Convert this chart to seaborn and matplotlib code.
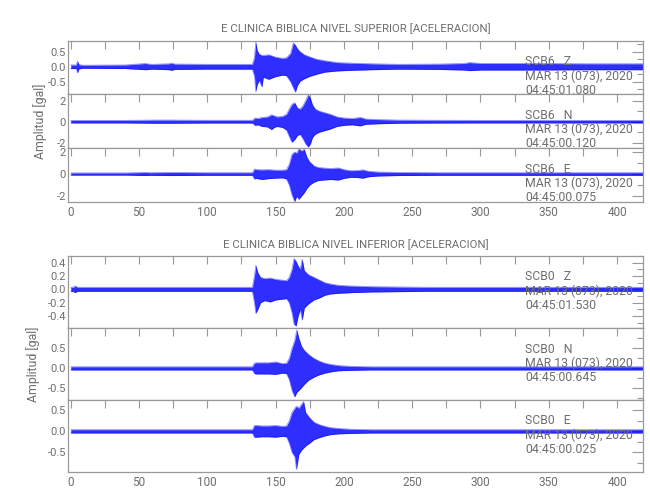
import numpy as np
import pandas as pd
import matplotlib
matplotlib.use("Agg")
import matplotlib.pyplot as plt
import matplotlib.transforms as mtransforms
from matplotlib.ticker import MultipleLocator, FixedLocator, FormatStrFormatter
import seaborn as sns

# ---------------- data (envelopes) ----------------
title_top = "E CLINICA BIBLICA NIVEL SUPERIOR [ACELERACION]"
title_bot = "E CLINICA BIBLICA NIVEL INFERIOR [ACELERACION]"
ylabel = "Amplitud [gal]"
date_txt = "MAR 13 (073), 2020"

# SCB6 Z
t_s6z = [0, 4, 5, 6, 9, 40, 55, 57, 60, 72, 74, 76, 100, 133, 134.5, 135.5, 136.5, 138, 140, 141, 145, 150,
         155, 158, 161, 163, 164.5, 166, 168, 171, 175, 180, 186, 195, 205, 220, 240, 270, 288, 292, 300,
         340, 380, 420]
hi_s6z = [0.06, 0.06, 0.18, 0.07, 0.05, 0.06, 0.11, 0.09, 0.08, 0.10, 0.12, 0.09, 0.08, 0.08, 0.30, 0.83,
          0.55, 0.42, 0.38, 0.38, 0.40, 0.32, 0.28, 0.30, 0.45, 0.80, 0.72, 0.60, 0.50, 0.40, 0.33, 0.25,
          0.20, 0.14, 0.12, 0.10, 0.08, 0.09, 0.11, 0.14, 0.11, 0.11, 0.10, 0.10]
lo_s6z = [-0.06, -0.06, -0.20, -0.07, -0.05, -0.06, -0.10, -0.09, -0.08, -0.10, -0.12, -0.09, -0.08, -0.08,
          -0.30, -0.83, -0.60, -0.45, -0.67, -0.35, -0.42, -0.33, -0.28, -0.30, -0.50, -0.70, -0.84, -0.62,
          -0.48, -0.40, -0.32, -0.25, -0.18, -0.14, -0.12, -0.10, -0.08, -0.09, -0.11, -0.13, -0.11, -0.11,
          -0.10, -0.10]

# SCB6 N
t_s6n = [0, 40, 60, 75, 100, 133, 135, 137, 140, 144, 147, 149, 151, 155, 158, 160, 162, 164, 166, 168,
         170, 172, 174, 175.5, 177, 179, 182, 186, 190, 195, 200, 206, 212, 216, 225, 240, 270, 300, 350, 420]
hi_s6n = [0.12, 0.12, 0.15, 0.15, 0.13, 0.13, 0.35, 0.30, 0.40, 0.45, 0.65, 0.55, 0.45, 0.50, 0.70, 1.2,
          1.65, 1.8, 1.3, 1.2, 1.5, 2.0, 2.55, 2.2, 1.6, 1.2, 1.0, 0.85, 0.70, 0.45, 0.35, 0.30, 0.40, 0.25,
          0.20, 0.15, 0.13, 0.12, 0.12, 0.12]
lo_s6n = [-0.12, -0.12, -0.15, -0.15, -0.13, -0.13, -0.35, -0.30, -0.45, -0.50, -0.75, -0.55, -0.45, -0.55,
          -0.80, -1.4, -1.95, -1.7, -1.3, -1.2, -1.6, -2.1, -2.4, -2.1, -1.5, -1.2, -1.0, -0.85, -0.70, -0.45,
          -0.35, -0.30, -0.40, -0.25, -0.20, -0.15, -0.13, -0.12, -0.12, -0.12]

# SCB6 E
t_s6e = [0, 40, 55, 58, 75, 100, 133, 134.5, 136, 140, 145, 150, 155, 158, 160, 162, 164, 165.5, 167, 169,
         171, 173, 175, 178, 181, 185, 190, 196, 200, 205, 210, 214, 218, 225, 240, 270, 300, 350, 420]
hi_s6e = [0.10, 0.10, 0.14, 0.12, 0.14, 0.12, 0.12, 0.45, 0.40, 0.38, 0.40, 0.35, 0.35, 0.40, 0.9, 1.8, 2.0,
          1.9, 2.3, 2.1, 2.25, 1.5, 1.1, 0.75, 0.6, 0.55, 0.50, 0.55, 0.40, 0.30, 0.32, 0.38, 0.25, 0.18,
          0.14, 0.12, 0.12, 0.12, 0.12]
lo_s6e = [-0.10, -0.10, -0.14, -0.12, -0.14, -0.12, -0.12, -0.45, -0.40, -0.50, -0.42, -0.38, -0.35, -0.45,
          -1.0, -1.9, -2.5, -2.0, -2.3, -2.0, -1.7, -1.3, -1.0, -0.75, -0.6, -0.55, -0.50, -0.55, -0.40, -0.30,
          -0.32, -0.38, -0.25, -0.18, -0.14, -0.12, -0.12, -0.12, -0.12]

# SCB0 Z
t_s0z = [0, 2, 3, 5, 40, 80, 100, 133, 134.5, 135.5, 137, 139, 142, 146, 150, 154, 158, 160, 162, 163.5,
         165, 166.5, 168, 169.5, 171, 174, 178, 182, 186, 190, 196, 205, 220, 260, 300, 350, 420]
hi_s0z = [0.03, 0.03, 0.05, 0.03, 0.03, 0.03, 0.03, 0.03, 0.20, 0.36, 0.25, 0.18, 0.16, 0.17, 0.15, 0.14,
          0.13, 0.18, 0.30, 0.46, 0.42, 0.35, 0.30, 0.45, 0.28, 0.22, 0.18, 0.14, 0.10, 0.08, 0.06, 0.05,
          0.04, 0.03, 0.03, 0.03, 0.03]
lo_s0z = [-0.03, -0.03, -0.05, -0.03, -0.03, -0.03, -0.03, -0.03, -0.20, -0.36, -0.30, -0.20, -0.17, -0.19,
          -0.16, -0.15, -0.14, -0.20, -0.35, -0.52, -0.55, -0.40, -0.30, -0.46, -0.28, -0.22, -0.16, -0.13,
          -0.09, -0.07, -0.06, -0.05, -0.04, -0.03, -0.03, -0.03, -0.03]

# SCB0 N
t_s0n = [0, 40, 100, 133, 134.5, 136, 140, 145, 150, 155, 158, 160, 162, 164, 165.5, 167, 169, 171, 174,
         178, 182, 186, 190, 196, 205, 220, 260, 300, 420]
hi_s0n = [0.04, 0.04, 0.04, 0.04, 0.13, 0.14, 0.14, 0.14, 0.16, 0.12, 0.13, 0.25, 0.50, 0.70, 0.96, 0.75,
          0.55, 0.45, 0.35, 0.25, 0.18, 0.13, 0.10, 0.07, 0.05, 0.04, 0.04, 0.04, 0.04]
lo_s0n = [-0.04, -0.04, -0.04, -0.04, -0.13, -0.14, -0.14, -0.14, -0.15, -0.12, -0.13, -0.28, -0.55, -0.71,
          -0.60, -0.55, -0.48, -0.40, -0.30, -0.22, -0.16, -0.12, -0.09, -0.06, -0.05, -0.04, -0.04, -0.04,
          -0.04]

# SCB0 E
t_s0e = [0, 40, 100, 133, 134.5, 136, 140, 145, 150, 155, 158, 160, 162, 164, 165.3, 167, 169, 170.5, 172,
         175, 178, 182, 186, 190, 196, 205, 220, 260, 300, 420]
hi_s0e = [0.04, 0.04, 0.04, 0.04, 0.14, 0.14, 0.13, 0.13, 0.14, 0.12, 0.13, 0.25, 0.45, 0.55, 0.60, 0.55,
          0.65, 0.71, 0.45, 0.32, 0.22, 0.16, 0.12, 0.09, 0.07, 0.05, 0.04, 0.04, 0.04, 0.04]
lo_s0e = [-0.04, -0.04, -0.04, -0.04, -0.14, -0.14, -0.13, -0.13, -0.14, -0.12, -0.13, -0.28, -0.50, -0.60,
          -0.91, -0.55, -0.45, -0.40, -0.35, -0.28, -0.20, -0.15, -0.11, -0.08, -0.06, -0.05, -0.04, -0.04,
          -0.04, -0.04]

station_labels = ["SCB6   Z", "SCB6   N", "SCB6   E", "SCB0   Z", "SCB0   N", "SCB0   E"]
start_times = ["04:45:01.080", "04:45:00.120", "04:45:00.075",
               "04:45:01.530", "04:45:00.645", "04:45:00.025"]
x_ticks = [0, 50, 100, 150, 200, 250, 300, 350, 400]

traces = [(t_s6z, hi_s6z, lo_s6z), (t_s6n, hi_s6n, lo_s6n), (t_s6e, hi_s6e, lo_s6e),
          (t_s0z, hi_s0z, lo_s0z), (t_s0n, hi_s0n, lo_s0n), (t_s0e, hi_s0e, lo_s0e)]

# ---------------- styling / layout ----------------
sns.set_theme(style="white")
plt.rcParams["font.family"] = ["Roboto", "DejaVu Sans"]
plt.rcParams["axes.unicode_minus"] = False

GRAY = "#6e6e6e"
SPINE = "#999999"
BLUE = "#0000ff"

W, H = 650, 500
fig = plt.figure(figsize=(6.5, 5.0), dpi=100)

def rect(top_px, bot_px, left_px=68, right_px=643):
    return [left_px / W, 1 - bot_px / H, (right_px - left_px) / W, (bot_px - top_px) / H]

panel_px = [(40.7, 94.3), (94.3, 148.3), (148.3, 201.7),
            (256.0, 328.3), (328.3, 400.0), (400.0, 472.3)]
ylims = [(-0.92, 0.87), (-2.53, 2.6), (-2.52, 2.34),
         (-0.585, 0.50), (-0.79, 1.0), (-0.98, 0.75)]
ymajor = [[-0.5, 0.0, 0.5], [-2, 0, 2], [-2, 0, 2],
          [-0.4, -0.2, 0.0, 0.2, 0.4], [-0.5, 0.0, 0.5], [-0.5, 0.0, 0.5]]
yminor = [0.25, 1, 1, 0.1, 0.25, 0.25]
yfmt = ["%.1f", "%d", "%d", "%.1f", "%.1f", "%.1f"]

axes = []
for i in range(6):
    top_px, bot_px = panel_px[i]
    ax = fig.add_axes(rect(top_px, bot_px))
    axes.append(ax)
    t, hi, lo = traces[i]
    df = pd.DataFrame({"t": t, "hi": hi, "lo": lo})
    ax.fill_between(df["t"], df["lo"], df["hi"], color=BLUE, alpha=0.82, linewidth=0)
    sns.lineplot(data=df, x="t", y="hi", ax=ax, color=BLUE, linewidth=0.6, alpha=0.45)
    sns.lineplot(data=df, x="t", y="lo", ax=ax, color=BLUE, linewidth=0.6, alpha=0.45)

    ax.set_xlim(-2, 419)
    ax.set_ylim(*ylims[i])
    ax.set_xlabel("")
    ax.set_ylabel("")
    ax.xaxis.set_major_locator(FixedLocator(x_ticks))
    ax.xaxis.set_minor_locator(MultipleLocator(25))
    ax.yaxis.set_major_locator(FixedLocator(ymajor[i]))
    ax.yaxis.set_minor_locator(MultipleLocator(yminor[i]))
    ax.yaxis.set_major_formatter(FormatStrFormatter(yfmt[i]))
    ax.tick_params(axis="both", which="both", direction="in", top=True, right=True,
                   colors=SPINE, labelcolor=GRAY, labelsize=8, width=0.8)
    ax.tick_params(axis="x", which="major", length=6, pad=3, labelsize=8.5)
    ax.tick_params(axis="x", which="minor", length=6)
    ax.tick_params(axis="y", which="major", length=8, pad=1.5)
    ax.tick_params(axis="y", which="minor", length=4)
    for sp in ax.spines.values():
        sp.set_color(SPINE)
        sp.set_linewidth(0.9)
    if i not in (2, 5):
        ax.tick_params(axis="x", labelbottom=False)

    # station annotation (three lines, measured from the panel top in pixels)
    lines = [station_labels[i], date_txt, start_times[i]]
    offsets = [21, 35.5, 49.5]
    for txt, off in zip(lines, offsets):
        tr = mtransforms.offset_copy(ax.transAxes, fig=fig, x=0, y=-off, units="dots")
        ax.text(0.7956, 1.0, txt, transform=tr, ha="left", va="center",
                fontsize=8.8, color=GRAY, zorder=5)

# titles
fig.text(355.5 / W, 1 - 28.5 / H, title_top, ha="center", va="center", fontsize=8.2, color=GRAY)
fig.text(355.5 / W, 1 - 244.5 / H, title_bot, ha="center", va="center", fontsize=8.2, color=GRAY)
# y labels
fig.text(40 / W, 1 - 121 / H, ylabel, rotation=90, ha="center", va="center", fontsize=8.8, color=GRAY)
fig.text(33 / W, 1 - 364 / H, ylabel, rotation=90, ha="center", va="center", fontsize=8.8, color=GRAY)

fig.savefig("out.png", dpi=100, facecolor="white")
